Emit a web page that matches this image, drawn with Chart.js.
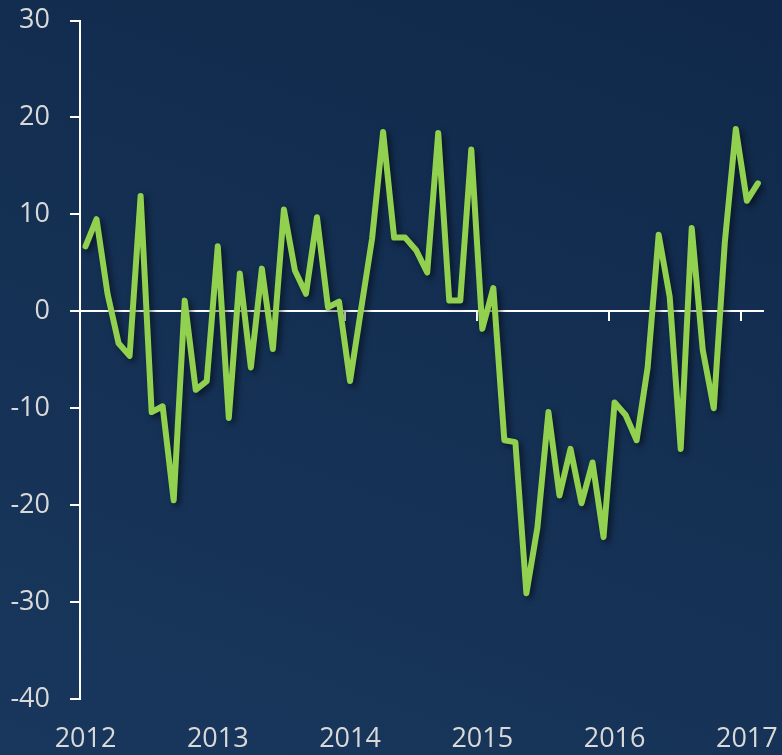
<!DOCTYPE html>
<html>
<head>
<meta charset="utf-8">
<script src="https://cdn.jsdelivr.net/npm/chart.js@4.4.1/dist/chart.umd.min.js"></script>
<style>
  html, body { margin: 0; padding: 0; }
  body {
    width: 782px;
    height: 755px;
    overflow: hidden;
    background: linear-gradient(200deg, #10294a 0%, #143053 50%, #19375d 100%), #14304f;
  }
  #wrap { position: relative; width: 782px; height: 755px; }
</style>
</head>
<body>
<div id="wrap"><canvas id="chart"></canvas></div>
<script>
// Monthly series, Jan 2012 - Feb 2017
const years = ['2012', '2013', '2014', '2015', '2016', '2017'];
const monthCount = 62;
const values = [
  6.7, 9.5, 1.8, -3.3, -4.6, 11.9, -10.4, -9.8, -19.5, 1.1, -8.1, -7.2,
  6.7, -11.0, 3.9, -5.8, 4.4, -3.9, 10.5, 4.2, 1.8, 9.7, 0.4, 1.0,
  -7.2, 0.2, 7.5, 18.5, 7.6, 7.6, 6.3, 4.0, 18.4, 1.1, 1.1, 16.7,
  -1.8, 2.4, -13.3, -13.5, -29.1, -22.3, -10.4, -19.0, -14.2, -19.8, -15.6, -23.3,
  -9.4, -10.7, -13.3, -5.8, 7.9, 1.5, -14.2, 8.6, -4.0, -10.0, 7.1, 18.8,
  11.4, 13.2,
];
const yTicks = [-40, -30, -20, -10, 0, 10, 20, 30];

const labels = [];
for (let i = 0; i < monthCount; i++) {
  labels.push(years[Math.floor(i / 12)] + '-' + String(i % 12 + 1).padStart(2, '0'));
}

const TEXT = '#d9d9d9';
const FONT = { family: "'Open Sans', sans-serif", size: 27 };

// soft drop shadow under the line
const lineShadow = {
  id: 'lineShadow',
  beforeDatasetDraw(chart) {
    const c = chart.ctx;
    c.save();
    c.shadowColor = 'rgba(0, 0, 0, 0.55)';
    c.shadowBlur = 6;
    c.shadowOffsetX = 3;
    c.shadowOffsetY = 3;
  },
  afterDatasetDraw(chart) {
    chart.ctx.restore();
  },
};

new Chart(document.getElementById('chart'), {
  type: 'line',
  data: {
    labels,
    datasets: [{
      data: values,
      borderColor: '#92d050',
      borderWidth: 6,
      borderJoinStyle: 'round',
      borderCapStyle: 'round',
      pointRadius: 0,
      tension: 0,
      fill: false,
    }],
  },
  options: {
    responsive: true,
    maintainAspectRatio: false,
    animation: false,
    layout: { padding: { top: 20.5, right: 17, bottom: 0, left: 0 } },
    plugins: {
      legend: { display: false },
      tooltip: { enabled: false },
    },
    scales: {
      x: {
        type: 'category',
        offset: true,
        grid: { display: false, drawTicks: false },
        border: { display: false },
        ticks: {
          autoSkip: false,
          maxRotation: 0,
          color: TEXT,
          font: FONT,
          padding: 24,
          callback: (v, i) => (i % 12 === 0 ? years[i / 12] : ''),
        },
        afterFit: (s) => { s.height = 56; },
      },
      xZero: {
        type: 'category',
        axis: 'x',
        labels,
        position: { y: 0 },
        offset: true,
        grid: {
          offset: true,
          drawOnChartArea: false,
          tickLength: 9,
          lineWidth: 2,
          color: (ctx) => (ctx.index % 12 === 0 ? '#ffffff' : 'rgba(0,0,0,0)'),
        },
        border: { color: '#ffffff', width: 2 },
        ticks: { display: false, autoSkip: false },
        afterFit: (s) => { s.height = 0; },
      },
      y: {
        min: -40,
        max: 30,
        afterBuildTicks: (s) => { s.ticks = yTicks.map((v) => ({ value: v })); },
        grid: {
          drawOnChartArea: false,
          tickLength: 10,
          lineWidth: 2,
          color: '#ffffff',
        },
        border: { color: '#ffffff', width: 2 },
        ticks: { color: TEXT, font: FONT, padding: 20 },
        afterFit: (s) => {
          s.width = 80;
          s.paddingTop = 0;
          s.paddingBottom = 0;
        },
      },
    },
  },
  plugins: [lineShadow],
});
</script>
</body>
</html>
